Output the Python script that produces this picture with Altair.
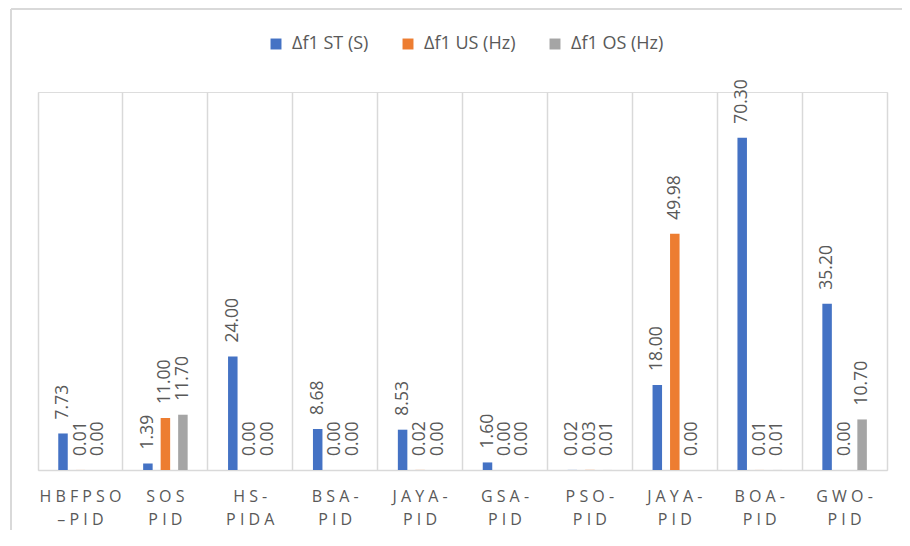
import json
import altair as alt
import pandas as pd

# ---- data ----
category_labels = [
    ["H B F P S O", "– P I D"],
    ["S O S", "P I D"],
    ["H S -", "P I D A"],
    ["B S A -", "P I D"],
    ["J A Y A -", "P I D"],
    ["G S A -", "P I D"],
    ["P S O -", "P I D"],
    ["J A Y A -", "P I D"],
    ["B O A -", "P I D"],
    ["G W O -", "P I D"],
]
series_names = ["Δf1 ST (S)", "Δf1 US (Hz)", "Δf1 OS (Hz)"]
st_values = [7.73, 1.39, 24.00, 8.68, 8.53, 1.60, 0.02, 18.00, 70.30, 35.20]
us_values = [0.01, 11.00, 0.00, 0.00, 0.02, 0.00, 0.03, 49.98, 0.01, 0.00]
os_values = [0.00, 11.70, 0.00, 0.00, 0.00, 0.00, 0.01, 0.00, 0.01, 10.70]
series_colors = ["#4472C4", "#ED7D31", "#A5A5A5"]

rows = []
for s, vals in zip(series_names, [st_values, us_values, os_values]):
    for i, v in enumerate(vals):
        rows.append({"idx": i, "series": s, "value": v, "txt": f"{v:.2f}"})
df = pd.DataFrame(rows)

FONT = "Open Sans"
TXT = "#595959"
GRID = "#D9D9D9"

label_expr = json.dumps(category_labels, ensure_ascii=False) + "[datum.value]"

x_enc = alt.X(
    "idx:O",
    title=None,
    scale=alt.Scale(paddingInner=0, paddingOuter=0),
    axis=alt.Axis(
        labelExpr=label_expr,
        labelAngle=0,
        labelFont=FONT,
        labelFontSize=16,
        labelColor=TXT,
        labelPadding=18,
        labelLineHeight=23,
        ticks=False,
        grid=True,
        gridColor=GRID,
        gridWidth=1.5,
        bandPosition=0,
        domainColor=GRID,
        domainWidth=1.5,
    ),
)
xoff_enc = alt.XOffset(
    "series:N",
    sort=series_names,
    scale=alt.Scale(domain=series_names, range=[11.5, 73.5],
                    paddingInner=0.457, paddingOuter=0.5),
)
y_enc = alt.Y(
    "value:Q",
    scale=alt.Scale(domain=[0, 80], nice=False, zero=True),
    axis=alt.Axis(
        orient="right",
        labels=False,
        ticks=False,
        grid=False,
        title=None,
        domainColor=GRID,
        domainWidth=1.5,
    ),
)

base = alt.Chart(df)

bars = base.mark_bar().encode(
    x=x_enc,
    xOffset=xoff_enc,
    y=y_enc,
    color=alt.Color(
        "series:N",
        sort=series_names,
        scale=alt.Scale(domain=series_names, range=series_colors),
        legend=alt.Legend(
            title=None,
            orient="none",
            direction="horizontal",
            legendX=229,
            legendY=-57,
            symbolType="square",
            symbolSize=120,
            symbolStrokeWidth=0,
            labelFont=FONT,
            labelFontSize=18,
            labelColor=TXT,
            labelOffset=7,
            columnPadding=30,
            padding=0,
        ),
    ),
)

labels = base.mark_text(
    angle=270, align="left", baseline="middle", dx=14,
    font=FONT, fontSize=17.5, color=TXT,
).encode(
    x=x_enc,
    xOffset=xoff_enc,
    y=y_enc,
    text="txt:N",
)

frame_data = alt.Data(values=[{"k": 1}])
frame_top = alt.Chart(frame_data).mark_rule(color=GRID, strokeWidth=2).encode(
    x=alt.value(-27), x2=alt.value(870), y=alt.value(-83)
)
frame_left = alt.Chart(frame_data).mark_rule(color=GRID, strokeWidth=2).encode(
    x=alt.value(-27), y=alt.value(-83), y2=alt.value(470)
)

chart = (
    alt.layer(bars, labels, frame_top, frame_left)
    .properties(
        width=849,
        height=378,
        autosize=alt.AutoSizeParams(type="none"),
        padding={"left": 30, "top": 84, "right": 15, "bottom": 60},
    )
    .configure_view(stroke=None)
    .configure(background="white")
)

chart.save("out.html", embed_options={"renderer": "svg", "actions": False})
